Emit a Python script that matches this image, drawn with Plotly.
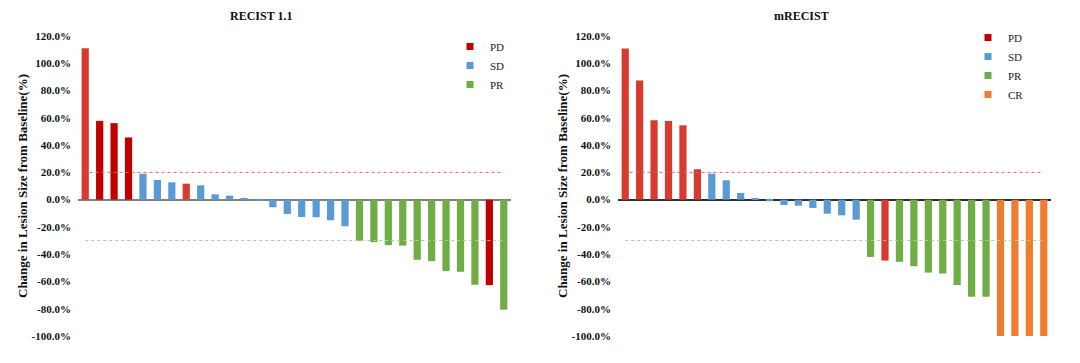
import plotly.graph_objects as go

# ---------------- data ----------------
bars_x = list(range(30))

left_title = "RECIST 1.1"
left_values = [111.0, 57.8, 56.1, 45.6, 19.0, 14.4, 12.7, 11.7, 10.5, 3.9,
               2.9, 1.2, -1.0, -5.6, -10.5, -12.7, -12.9, -15.1, -19.5, -30.2,
               -31.2, -33.4, -33.7, -44.1, -45.1, -52.4, -52.9, -62.4, -62.7, -80.7]
left_status = ["PD", "PD", "PD", "PD", "SD", "SD", "SD", "PD", "SD", "SD",
               "SD", "SD", "SD", "SD", "SD", "SD", "SD", "SD", "SD", "PR",
               "PR", "PR", "PR", "PR", "PR", "PR", "PR", "PR", "PD", "PR"]
left_light_pd = [0, 7]          # PD bars drawn in the lighter red
left_legend = ["PD", "SD", "PR"]

right_title = "mRECIST"
right_values = [110.9, 87.4, 58.2, 57.7, 54.5, 22.3, 19.1, 14.2, 4.9, 1.2,
                -1.2, -3.9, -4.4, -6.1, -10.3, -11.5, -14.7, -42.0, -44.7, -45.6,
                -48.8, -53.5, -54.2, -62.6, -71.2, -71.2, -100.0, -100.0, -100.0, -100.0]
right_status = ["PD", "PD", "PD", "PD", "PD", "PD", "SD", "SD", "SD", "SD",
                "SD", "SD", "SD", "SD", "SD", "SD", "SD", "PR", "PD", "PR",
                "PR", "PR", "PR", "PR", "PR", "PR", "CR", "CR", "CR", "CR"]
right_light_pd = [0, 1, 2, 3, 4, 5, 18]
right_legend = ["PD", "SD", "PR", "CR"]

y_ticks = [120, 100, 80, 60, 40, 20, 0, -20, -40, -60, -80, -100]
pd_threshold = 20
pr_threshold = -30
y_title = "Change in Lesion Size from Baseline(%)"

# ---------------- style ----------------
COLORS = {"PD": "#c00000", "PD_light": "#d73b2f", "SD": "#5b9bd5",
          "PR": "#70ad47", "CR": "#ed7d31"}
FONT = "Liberation Serif, Times New Roman, serif"

W, H, OFF = 1064, 347, 8   # page body margin of 8px around the figure


def px(xr):
    return (xr - OFF) / W


def py(yr):
    return 1 - (yr - OFF) / H


fig = go.Figure()


def add_panel(values, status, light_idx, legend_items, xa, ya, legend_name):
    groups = {}
    for i, (v, s) in enumerate(zip(values, status)):
        key = s
        if s == "PD" and i in light_idx:
            key = "PD_light"
        groups.setdefault(key, ([], []))
        groups[key][0].append(bars_x[i])
        groups[key][1].append(v)
    for key, (xs, ys) in groups.items():
        fig.add_trace(go.Bar(x=xs, y=ys, marker=dict(color=COLORS[key], line=dict(width=0)),
                             xaxis=xa, yaxis=ya, showlegend=False, width=0.5, hoverinfo="y"))
    for s in legend_items:
        fig.add_trace(go.Scatter(x=[None], y=[None], name=s, mode="markers",
                                 marker=dict(color=COLORS[s], symbol="square", size=7),
                                 xaxis=xa, yaxis=ya, legend=legend_name, showlegend=True))


add_panel(left_values, left_status, left_light_pd, left_legend, "x", "y", "legend")
add_panel(right_values, right_status, right_light_pd, right_legend, "x2", "y2", "legend2")

ydom = [py(336), py(36)]
common_y = dict(range=[-100, 120], tickvals=y_ticks, ticktext=[f"{t:.1f}%" for t in y_ticks],
                showgrid=False, showline=False, ticks="", automargin=False, ticklabelstandoff=6,
                tickfont=dict(family=FONT, size=11, color="#111", weight="bold"),
                zeroline=True, zerolinewidth=1.5)
common_x = dict(range=[-0.5, 29.5], showticklabels=False, showgrid=False, zeroline=False,
                showline=False, ticks="", automargin=False)

legend_style = dict(xanchor="left", yanchor="top", itemsizing="trace",
                    font=dict(family=FONT, size=11, color="#222"), bgcolor="rgba(0,0,0,0)",
                    itemwidth=30, tracegroupgap=0)

fig.update_layout(
    width=W, height=H, autosize=False,
    margin=dict(l=0, r=0, t=0, b=0, autoexpand=False),
    plot_bgcolor="white", paper_bgcolor="white",
    barmode="overlay",
    xaxis=dict(domain=[px(78), px(511)], **common_x),
    xaxis2=dict(domain=[px(618), px(1051)], **common_x),
    yaxis=dict(domain=ydom, anchor="x", zerolinecolor="#808080", **common_y),
    yaxis2=dict(domain=ydom, anchor="x2", zerolinecolor="#303030", **common_y),
    legend=dict(x=px(450), y=py(32), **legend_style),
    legend2=dict(x=px(968), y=py(23), **legend_style),
)

for xr, yr in (("x", "y"), ("x2", "y2")):
    fig.add_shape(type="line", xref=xr, yref=yr, x0=0.3, x1=29, y0=pd_threshold, y1=pd_threshold,
                  line=dict(color="#e06666", width=1, dash="3px,3px"))
    fig.add_shape(type="line", xref=xr, yref=yr, x0=0, x1=29, y0=pr_threshold, y1=pr_threshold,
                  line=dict(color="#a9d18e", width=1, dash="3px,3px"))

# panel titles
for title, xc in ((left_title, 261), (right_title, 801)):
    fig.add_annotation(text=f"<b>{title}</b>", x=px(xc), y=py(16), xref="paper", yref="paper",
                       xanchor="center", yanchor="middle",
                       showarrow=False, font=dict(family=FONT, size=12, color="#111"))
# y-axis titles
for xc in (22, 562):
    fig.add_annotation(text=f"<b>{y_title}</b>", x=px(xc), y=py(186), xref="paper", yref="paper",
                       xanchor="center", yanchor="middle",
                       showarrow=False, textangle=-90, font=dict(family=FONT, size=13, color="#111"))

fig.write_html("out.html")
